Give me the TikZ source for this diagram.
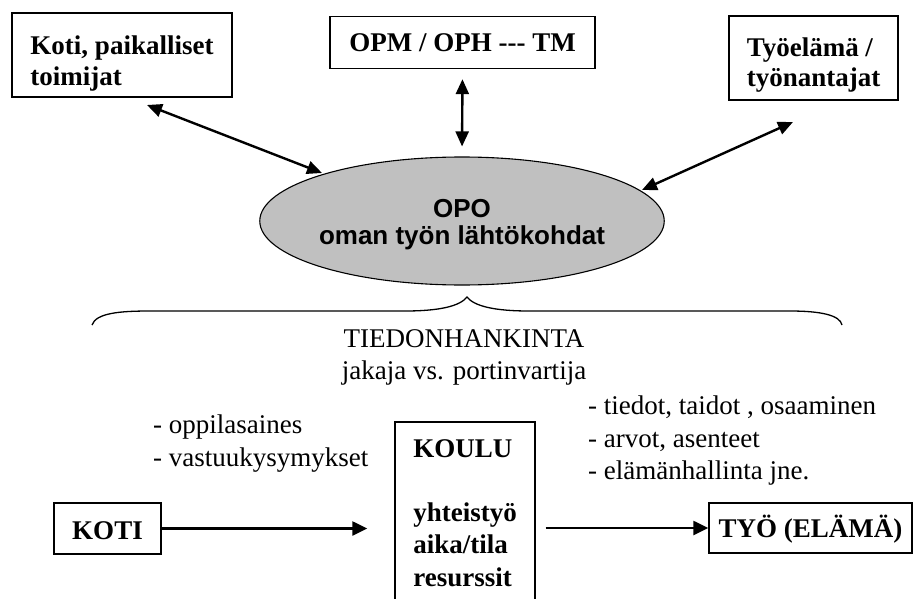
\documentclass[tikz,border=0pt]{standalone}
\usepackage{fontspec}
\setmainfont{Liberation Serif}
\newfontfamily\arialfont{Liberation Sans}
\usetikzlibrary{arrows.meta,calc,positioning,shapes.geometric}
\definecolor{opogray}{RGB}{192,192,192}
\tikzset{%
	box/.style     = {draw, rectangle, line width=1.4pt, align=left, inner sep=0pt, font=\bfseries\fontsize{27}{31.5}\selectfont},
	opo/.style     = {draw, ellipse, fill=opogray, line width=1.1pt, inner sep=0pt, align=center, font=\arialfont\bfseries\fontsize{26}{26.5}\selectfont},
	txt/.style     = {align=left, inner sep=0pt, font=\fontsize{27}{32.5}\selectfont},
	arrow/.style   = {line width=2.4pt, -{Triangle[length=15pt,width=14pt]}},
	twoway/.style  = {line width=2.4pt, {Triangle[length=15pt,width=13pt]}-{Triangle[length=15pt,width=13pt]}},
	bracket/.style = {line width=1.3pt},
}

\begin{document}
\begin{tikzpicture}[x=1pt,y=-1pt]
	\useasboundingbox (0,0) rectangle (918,599);
	\clip (0,0) rectangle (918,599);
	% top row
	\node [box, minimum width=220pt, minimum height=84pt] (paikall) at (122,55) {\rule{0pt}{36pt}Koti, paikalliset\\toimijat};
	\node [box, minimum width=265pt, minimum height=52pt, text height=19.5pt, text depth=0.5pt] (opm) at (462.5,42.5) {OPM / OPH \mbox{-}\mbox{-}\mbox{-} TM};
	\node [box, minimum width=169pt, minimum height=84pt] (tyoelama) at (813.5,58) {\rule{0pt}{32pt}Työelämä /\\[-1.5pt]työnantajat};
	\node [opo, minimum width=331pt, minimum height=128pt] (opo) at (462,221) {\rule{0pt}{25.5pt}OPO\\oman työn lähtökohdat};
	
	\coordinate (pa) at (147,105);
	\coordinate (pb) at (322,173);
	\coordinate (ta) at (793,122);
	\coordinate (tb) at (642,190);
	\draw[twoway] (pa) -- (pb);
	\draw[twoway, shorten <=10pt, shorten >=10pt] (opm.south) -- (opo.north);
	\draw[twoway] (ta) -- (tb);
	
	% tiedonhankinta
	\draw[bracket] (92,325) .. controls (96,313) and (120,311) .. (150,311) -- (405,311)
		.. controls (440,311) and (460,306) .. (467,297)
		.. controls (474,306) and (494,311) .. (529,311) -- (790,311)
		.. controls (820,311) and (840,315) .. (842,325);
	\node [txt, align=center, anchor=north] (tiedon) at (464,329) {TIEDONHANKINTA\\jakaja vs. portinvartija};
	
	% bottom row
	\node [box, minimum width=107pt, minimum height=51pt, text height=21pt, text depth=0pt] (koti) at (107.5,528.5) {KOTI};
	\node [box, minimum width=140pt, minimum height=182pt] (koulu) at (465,513) {KOULU\\[32.5pt]yhteistyö\\[1pt]aika/tila\\[1pt]resurssit};
	\node [box, minimum width=203pt, minimum height=50pt, text height=20pt, text depth=2pt] (tyo) at (810.5,528) {TYÖ (ELÄMÄ)};
	\node [txt, anchor=north west] (oppi) at (153,415) {- oppilasaines\\- vastuukysymykset};
	\node [txt, anchor=north west] (tiedot) at (588,396) {- tiedot, taidot , osaaminen\\- arvot, asenteet\\- elämänhallinta jne.};
	
	\draw[arrow, shorten >=27pt] (koti.east) -- (koti.east -| koulu.west);
	\draw[arrow, shorten <=10pt] (koulu.east |- tyo.west) -- (tyo.west);
\end{tikzpicture}
\end{document}
